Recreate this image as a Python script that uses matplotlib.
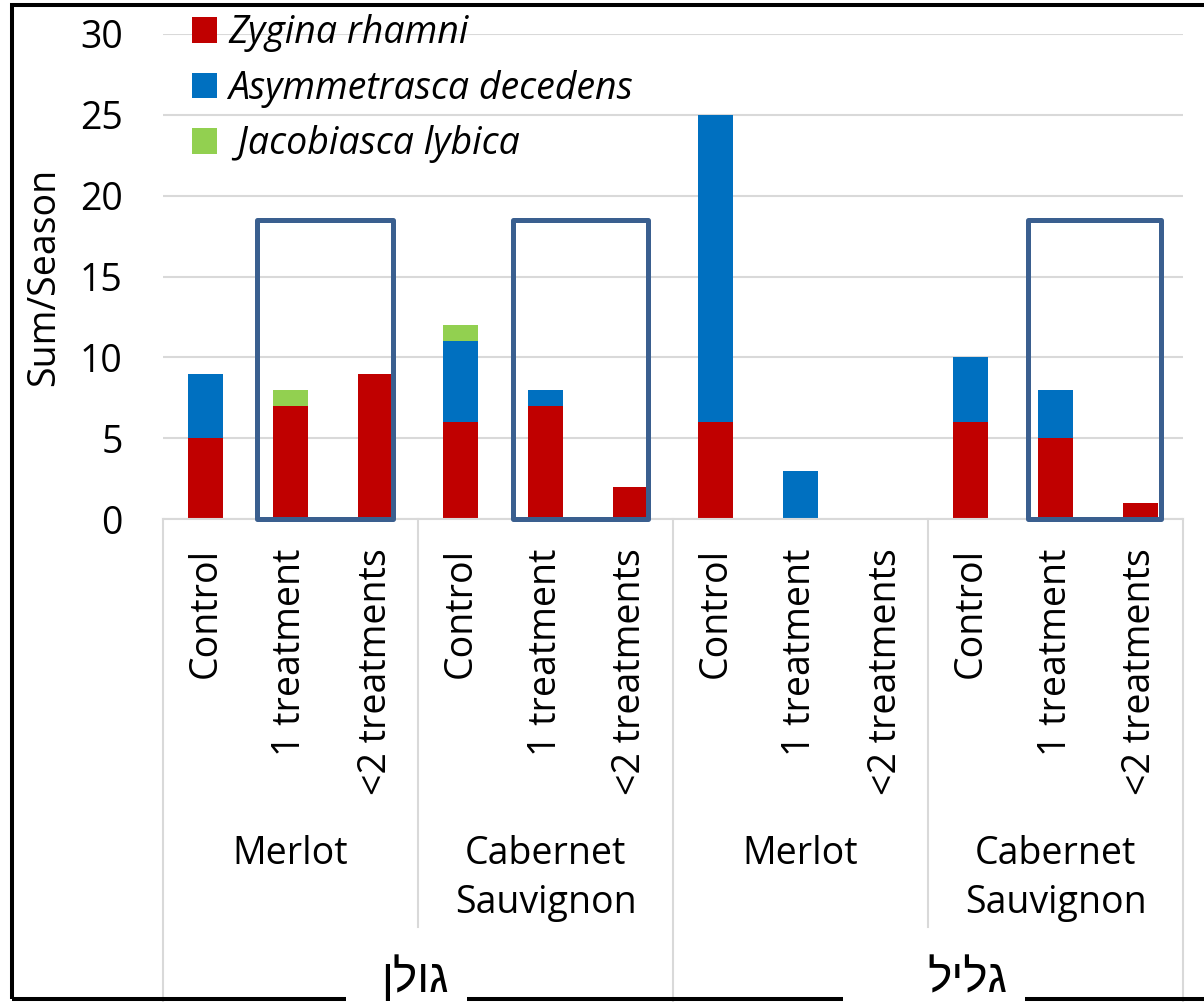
import numpy as np
import matplotlib.pyplot as plt
from matplotlib.patches import Rectangle
from matplotlib.transforms import blended_transform_factory

plt.rcParams['font.family'] = ['Open Sans', 'DejaVu Sans']

W, H = 1204, 1002

# data
regions = ["גולן", "גליל"]
varieties = ["Merlot", "Cabernet\nSauvignon", "Merlot", "Cabernet\nSauvignon"]
treatments = ["Control", "1 treatment", "<2 treatments"] * 4
species = ["Zygina rhamni", "Asymmetrasca decedens", " Jacobiasca lybica"]
zygina = [5, 7, 9, 6, 7, 2, 6, 0, 0, 6, 5, 1]
asym = [4, 0, 0, 5, 1, 0, 19, 3, 0, 4, 3, 0]
jaco = [0, 1, 0, 1, 0, 0, 0, 0, 0, 0, 0, 0]
colors = ["#C00000", "#0070C0", "#92D050"]

# hand drawn boxes (x from, x to in category units, top value)
boxes = [(0.61, 2.21), (3.62, 5.20), (9.68, 11.24)]
box_top = 18.5


def fx(px):
    return px / W


def fy(py):
    return 1 - py / H


fig = plt.figure(figsize=(W / 100, H / 100), dpi=100)
ax = fig.add_axes([fx(163), fy(519), 1020 / W, 485 / H])

x = np.arange(len(treatments))
bottom = np.zeros(len(x))
for vals, c, lab in zip([zygina, asym, jaco], colors, species):
    ax.bar(x, vals, 0.41, bottom=bottom, color=c, label=lab, linewidth=0, zorder=2)
    bottom += np.array(vals)

for x0, x1 in boxes:
    ax.add_patch(Rectangle((x0, 0), x1 - x0, box_top, fill=False, ec="#3A5F8F",
                           lw=3.6, joinstyle="round", clip_on=False, zorder=3))

ax.set_xlim(-0.5, 11.5)
ax.set_ylim(0, 30)
ax.set_yticks(range(0, 31, 5))
ax.yaxis.grid(True, color="#D9D9D9", lw=1.5)
ax.set_axisbelow(True)
for s in ["left", "right", "top"]:
    ax.spines[s].set_visible(False)
ax.spines["bottom"].set_color("#D9D9D9")
ax.spines["bottom"].set_linewidth(1.5)
ax.tick_params(axis="y", length=0, pad=29, labelsize=27)
ax.set_xticks(x, treatments, rotation=90)
ax.tick_params(axis="x", length=0, pad=21, labelsize=27)

fig.text(fx(44), fy(277), "Sum/Season", rotation=90, ha="center", va="center", fontsize=27)

# multi level category axis
tr = blended_transform_factory(ax.transData, ax.transAxes)
for i, v in enumerate(varieties):
    ax.text(3 * i + 1, -(835 - 519) / 485, v, transform=tr, ha="center", va="top",
            fontsize=27, linespacing=1.38)
for xb in [-0.5, 5.5, 11.5]:
    ax.plot([xb, xb], [0, -(1002 - 519) / 485], transform=tr, color="#D9D9D9",
            lw=1.5, clip_on=False)
for xb in [2.5, 8.5]:
    ax.plot([xb, xb], [0, -(927 - 519) / 485], transform=tr, color="#D9D9D9",
            lw=1.5, clip_on=False)

leg = ax.legend(loc="upper left", bbox_to_anchor=(fx(192), fy(14)),
                bbox_transform=fig.transFigure, frameon=False, fontsize=27,
                handlelength=0.67, handleheight=0.67, handletextpad=0.3,
                labelspacing=0.47, borderpad=0, borderaxespad=0)
for t in leg.get_texts():
    t.set_style("italic")

# outer border with gaps behind the region labels
fig.add_artist(Rectangle((fx(12), fy(999)), (1230 - 12) / W, (999 - 5) / H,
                         transform=fig.transFigure, fill=False, ec="black", lw=2.9))
for x0, x1 in [(346, 467), (843, 1025)]:
    fig.add_artist(Rectangle((fx(x0), 0), (x1 - x0) / W, 14 / H,
                             transform=fig.transFigure, fc="white", ec="none", zorder=5))
for r, cx in zip(regions, [415, 967]):
    # matplotlib lays text out left to right, so the Hebrew word is reversed
    fig.text(fx(cx), fy(992), r[::-1], ha="center", va="baseline", fontsize=33,
             family=["Liberation Sans", "DejaVu Sans"], zorder=6)

fig.savefig("out.png", dpi=100)
